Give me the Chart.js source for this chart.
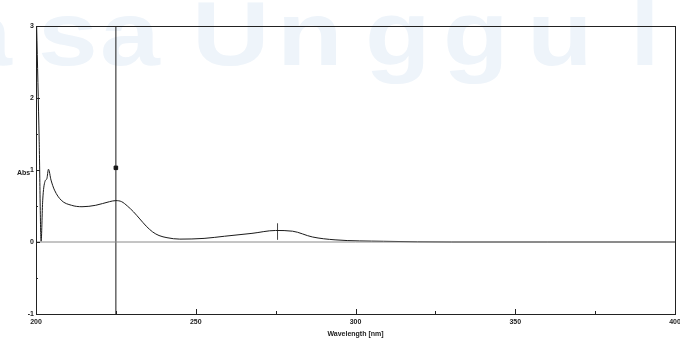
<!DOCTYPE html>
<html>
<head>
    <title>UV Spectrum</title>
    <!-- Include Chart.js library -->
    <script src="https://cdn.jsdelivr.net/npm/chart.js"></script>
    <style>
        body { margin: 0; background: #ffffff; }
        canvas { display: block; }
    </style>
</head>
<body>
    <canvas id="spectrumChart" width="680" height="338"></canvas> <!-- Canvas for the spectrum -->
    <script type="text/javascript">
        // Wavelength (nm) and absorbance
        var wavelengths = [200.2, 201.0, 201.6, 202.1, 202.8, 203.4, 203.9, 204.7, 205.8, 207.9, 211.1, 214.4, 218.7, 223.0, 225.0, 226.8, 228.6, 230.5, 232.5, 234.5, 236.5, 238.5, 241.0, 245.0, 252.6, 259.0, 267.6, 275.0, 280.3, 286.5, 293.6, 308.8, 330, 360, 400];
        var absorbance  = [3.0, 1.4, 0.01, 0.58, 0.84, 0.88, 1.01, 0.86, 0.72, 0.58, 0.51, 0.49, 0.51, 0.56, 0.575, 0.56, 0.50, 0.42, 0.32, 0.22, 0.14, 0.09, 0.06, 0.04, 0.05, 0.08, 0.12, 0.16, 0.15, 0.07, 0.03, 0.01, 0.0, 0.0, 0.0];

        var cursorWavelength = 225;    // vertical cursor line
        var cursorMarkValue = 1.03;    // square marker on the cursor
        var peakWavelength = 275.6;    // small peak pick mark
        var peakMarkRange = [0.03, 0.26];

        var xTicks = [200, 250, 300, 350, 400];
        var yTicks = [-1, 0, 1, 2, 3];

        // Build point list for the trace
        var tracePoints = wavelengths.map(function(w, i) {
            return { x: w, y: absorbance[i] };
        });

        var tickFont = { family: 'Liberation Sans', size: 7, weight: 'bold' };

        // Background, faint watermark, frame, inner ticks and the "Abs" label
        var decorPlugin = {
            id: 'decor',
            beforeDraw: function(chart) {
                var ctx = chart.ctx;
                ctx.save();
                ctx.fillStyle = '#ffffff';
                ctx.fillRect(0, 0, chart.width, chart.height);
                // watermark letters of the scanned page
                ctx.fillStyle = '#eef4fa';
                ctx.font = 'bold 86px "Liberation Sans"';
                ctx.textBaseline = 'alphabetic';
                var letters = [['a', -48], ['s', 38], ['a', 100], ['U', 192], ['n', 277], ['g', 365], ['g', 443], ['u', 527], ['l', 630]];
                letters.forEach(function(l) {
                    ctx.save();
                    ctx.translate(l[1], 65);
                    ctx.scale(1.25, 1.05);
                    ctx.fillText(l[0], 0, 0);
                    ctx.restore();
                });
                ctx.restore();
            },
            afterDraw: function(chart) {
                var ctx = chart.ctx;
                var a = chart.chartArea;
                var xs = chart.scales.x;
                var ys = chart.scales.y;
                ctx.save();
                ctx.strokeStyle = '#222222';
                ctx.lineWidth = 1;
                ctx.strokeRect(a.left + 0.5, a.top + 0.5, a.right - a.left, a.bottom - a.top);

                // inner tick marks on the wavelength axis
                ctx.beginPath();
                for (var w = 200; w <= 400; w += 25) {
                    var px = Math.round(xs.getPixelForValue(w)) + 0.5;
                    var len = (w % 50 === 0) ? 5 : 3;
                    ctx.moveTo(px, a.bottom);
                    ctx.lineTo(px, a.bottom - len);
                }
                // inner tick marks on the absorbance axis
                for (var v = -1; v <= 3; v += 0.5) {
                    var py = Math.round(ys.getPixelForValue(v)) + 0.5;
                    var l2 = (v % 1 === 0) ? 4 : 2;
                    ctx.moveTo(a.left, py);
                    ctx.lineTo(a.left + l2, py);
                }
                ctx.stroke();

                ctx.fillStyle = '#222222';
                ctx.font = 'bold 7px "Liberation Sans"';
                ctx.textAlign = 'left';
                ctx.textBaseline = 'middle';
                ctx.fillText('Abs', 17, ys.getPixelForValue(1) + 3);
                ctx.restore();
            }
        };

        var ctx = document.getElementById('spectrumChart').getContext('2d');
        var spectrumChart = new Chart(ctx, {
            type: 'scatter',
            data: {
                datasets: [
                    {
                        // baseline at zero absorbance
                        data: [{ x: 200, y: 0 }, { x: 400, y: 0 }],
                        showLine: true,
                        borderColor: '#8a8a8a',
                        borderWidth: 1,
                        pointRadius: 0
                    },
                    {
                        // absorbance trace
                        data: tracePoints,
                        showLine: true,
                        borderColor: '#1a1a1a',
                        borderWidth: 1,
                        pointRadius: 0,
                        cubicInterpolationMode: 'monotone'
                    },
                    {
                        // cursor line
                        data: [{ x: cursorWavelength, y: -1 }, { x: cursorWavelength, y: 3 }],
                        showLine: true,
                        borderColor: '#1a1a1a',
                        borderWidth: 1,
                        pointRadius: 0
                    },
                    {
                        // peak pick mark
                        data: [{ x: peakWavelength, y: peakMarkRange[0] }, { x: peakWavelength, y: peakMarkRange[1] }],
                        showLine: true,
                        borderColor: '#444444',
                        borderWidth: 1,
                        pointRadius: 0
                    },
                    {
                        // square on the cursor
                        data: [{ x: cursorWavelength, y: cursorMarkValue }],
                        pointStyle: 'rect',
                        pointRadius: 2.5,
                        backgroundColor: '#111111',
                        borderColor: '#111111'
                    }
                ]
            },
            options: {
                responsive: false,
                animation: false,
                layout: { padding: { top: 26, right: 1, left: 0, bottom: 0 } },
                plugins: {
                    legend: { display: false },
                    tooltip: { enabled: false }
                },
                scales: {
                    x: {
                        type: 'linear',
                        min: 200,
                        max: 400,
                        afterBuildTicks: function(scale) {
                            scale.ticks = xTicks.map(function(v) { return { value: v }; });
                        },
                        afterFit: function(scale) {
                            scale.height = 24;
                            scale.paddingLeft = 0;
                            scale.paddingRight = 0;
                        },
                        grid: { display: false, drawTicks: false },
                        border: { display: false },
                        ticks: {
                            font: tickFont,
                            color: '#222222',
                            padding: 4,
                            maxRotation: 0,
                            autoSkip: false
                        },
                        title: {
                            display: true,
                            text: 'Wavelength [nm]',
                            font: tickFont,
                            color: '#222222',
                            padding: { top: 0, bottom: 0 }
                        }
                    },
                    y: {
                        type: 'linear',
                        min: -1,
                        max: 3,
                        afterBuildTicks: function(scale) {
                            scale.ticks = yTicks.map(function(v) { return { value: v }; });
                        },
                        afterFit: function(scale) {
                            scale.width = 36;
                            scale.paddingTop = 0;
                            scale.paddingBottom = 0;
                        },
                        grid: { display: false, drawTicks: false },
                        border: { display: false },
                        ticks: {
                            font: tickFont,
                            color: '#222222',
                            padding: 2
                        }
                    }
                }
            },
            plugins: [decorPlugin]
        });
    </script>
</body>
</html>
